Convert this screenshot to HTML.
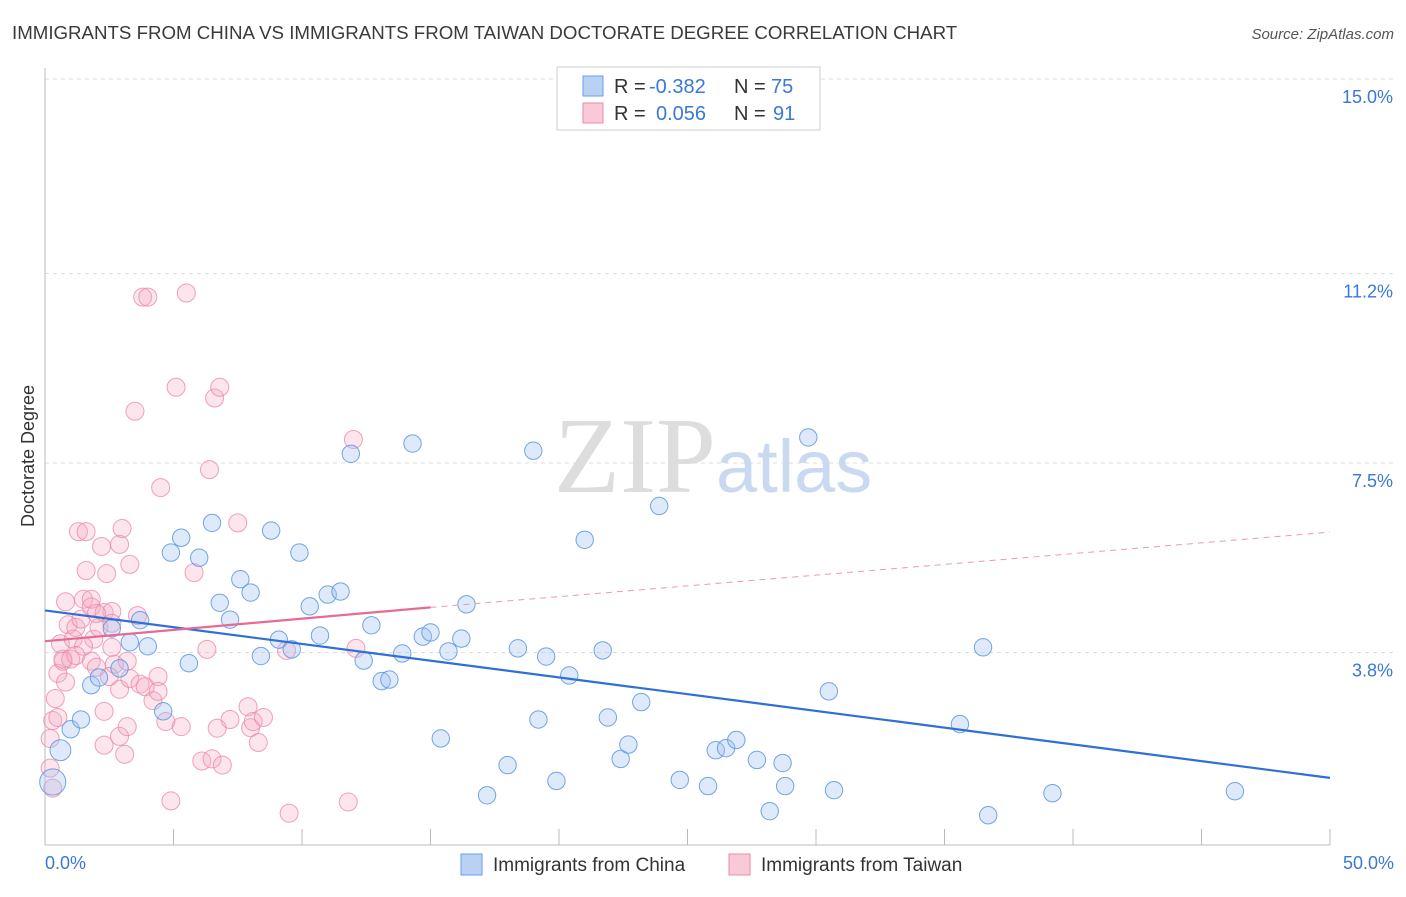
<!DOCTYPE html>
<html><head><meta charset="utf-8"><style>
body{margin:0;background:#fff;font-family:"Liberation Sans",sans-serif;}
</style></head><body>
<svg width="1406" height="892" xmlns="http://www.w3.org/2000/svg" font-family="Liberation Sans, sans-serif">
<text x="12" y="39" font-size="18.7" fill="#3a3a3a">IMMIGRANTS FROM CHINA VS IMMIGRANTS FROM TAIWAN DOCTORATE DEGREE CORRELATION CHART</text>
<text x="1394" y="39" font-size="15" fill="#555" text-anchor="end" font-style="italic">Source: ZipAtlas.com</text>
<g id="grid"></g>
<line x1="45" y1="68" x2="45" y2="845" stroke="#bbb"/>
<line x1="45" y1="845" x2="1330" y2="845" stroke="#bbb"/>
<text x="716" y="492" font-size="108" fill="#ddd" font-family="Liberation Serif, serif" text-anchor="end">ZIP</text>
<text x="716" y="492" font-size="74" fill="#c9d9f0">atlas</text>
<text x="34" y="456" font-size="18" fill="#333" transform="rotate(-90 34 456)" text-anchor="middle">Doctorate Degree</text>
<text x="45" y="869" font-size="18" fill="#3a78d8">0.0%</text>
<text x="1394" y="869" font-size="18" fill="#3a78d8" text-anchor="end">50.0%</text>
<g id="pts"></g>
<g id="lines"></g>
<g font-size="20">
<rect x="557" y="67" width="263" height="63" fill="#fff" stroke="#ccc"/>
<rect x="583" y="76" width="20" height="20" fill="#b9d2f4" stroke="#6a9ee6"/>
<rect x="583" y="103" width="20" height="20" fill="#f9c9d7" stroke="#ec8aa8"/>
<text x="614" y="93" fill="#333">R =</text><text x="649" y="93" fill="#3a78d8">-0.382</text>
<text x="734" y="93" fill="#333">N =</text><text x="771" y="93" fill="#3a78d8">75</text>
<text x="614" y="120" fill="#333">R =</text><text x="656" y="120" fill="#3a78d8">0.056</text>
<text x="734" y="120" fill="#333">N =</text><text x="773" y="120" fill="#3a78d8">91</text>
</g>
<g>
<rect x="461" y="854" width="21" height="21" fill="#b9d2f4" stroke="#6a9ee6"/>
<text x="493" y="871" font-size="19" fill="#333">Immigrants from China</text>
<rect x="729" y="854" width="21" height="21" fill="#f9c9d7" stroke="#ec8aa8"/>
<text x="761" y="871" font-size="19" fill="#333">Immigrants from Taiwan</text>
</g>
</svg>
<script>
const yTicks=[3.8,7.5,11.2,15.0];
const yTickLabels=["3.8%","7.5%","11.2%","15.0%"];
const chinaX=[0.3,0.6,1.0,1.4,1.8,2.1,2.6,2.9,3.3,3.7,4.0,4.6,4.9,5.3,5.6,6.0,6.5,6.8,7.2,7.6,8.0,8.4,8.8,9.1,9.6,9.9,10.3,10.7,11.0,11.5,11.9,12.4,12.7,13.1,13.4,13.9,14.3,14.7,15.0,15.4,15.7,16.2,16.4,17.2,18.0,18.4,19.0,19.2,19.5,19.9,20.4,21.0,21.7,21.9,22.4,22.7,23.2,23.9,24.7,25.8,26.1,26.5,26.9,27.7,28.2,28.7,28.8,29.7,30.5,30.7,35.6,36.5,36.7,39.2,46.3];
const chinaY=[1.27,1.89,2.3,2.49,3.16,3.31,4.27,3.49,4.0,4.43,3.92,2.65,5.75,6.04,3.59,5.65,6.33,4.77,4.44,5.23,4.97,3.73,6.18,4.05,3.86,5.75,4.7,4.13,4.93,4.99,7.68,3.64,4.33,3.24,3.27,3.78,7.88,4.11,4.19,2.12,3.82,4.07,4.74,1.01,1.6,3.88,7.74,2.49,3.72,1.29,3.35,6.0,3.84,2.53,1.72,2.0,2.83,6.66,1.31,1.19,1.89,1.93,2.09,1.70,0.70,1.64,1.19,8.0,3.04,1.11,2.40,3.90,0.62,1.05,1.09];
const chinaR=[15,12,10,10,10,10,10,10,10,10,10,10,10,10,10,10,10,10,10,10,10,10,10,10,10,10,10,10,10,10,10,10,10,10,10,10,10,10,10,10,10,10,10,10,10,10,10,10,10,10,10,10,10,10,10,10,10,10,10,10,10,10,10,10,10,10,10,10,10,10,10,10,10,10,10];
const taiwanX=[0.2,0.2,0.3,0.4,0.5,0.6,0.7,0.7,0.8,0.9,1.0,1.1,1.2,1.3,1.4,1.5,1.6,1.6,1.8,1.8,1.9,2.0,2.1,2.2,2.3,2.3,2.4,2.6,2.7,2.9,2.9,3.0,3.1,3.2,3.3,3.3,3.5,3.6,3.7,3.8,3.9,4.0,4.2,4.4,4.4,4.5,4.7,4.9,5.1,5.3,5.5,5.8,6.1,6.3,6.4,6.5,6.6,6.8,6.7,6.9,7.2,7.5,7.9,8.0,8.1,8.3,8.5,9.4,9.5,11.8,12.0,12.1,1.5,1.8,0.8,1.2,2.0,2.5,2.6,0.5,0.3,2.9,3.2,2.6,2.3];
const taiwanY=[1.54,2.12,2.47,2.90,3.39,3.97,3.63,3.67,4.79,4.34,3.67,4.06,4.29,6.16,4.45,4.84,5.40,6.16,4.69,3.63,4.06,3.51,4.29,5.87,4.58,1.99,5.34,4.60,3.57,3.08,5.91,6.22,1.81,3.63,5.52,3.29,8.51,4.52,3.18,10.74,3.13,10.74,2.86,3.33,3.04,7.02,2.45,0.90,8.98,2.35,10.82,5.36,1.68,3.86,7.37,1.72,8.77,8.98,2.32,1.60,2.49,6.33,2.74,2.33,2.45,2.04,2.53,3.84,0.66,0.88,7.96,3.88,3.92,4.84,3.22,3.74,4.56,3.33,4.37,2.53,1.15,2.16,2.35,3.90,2.65];
const blueFit=[4.62,1.35];
const pinkFit=[4.02,4.68,6.15];
const NS="http://www.w3.org/2000/svg";
function sx(v){return 45+v*25.7;}
function sy(v){return 847-v*51.2;}
const grid=document.getElementById('grid');
yTicks.forEach((t,i)=>{
 const l=document.createElementNS(NS,'line');
 l.setAttribute('x1',45);l.setAttribute('x2',1394);l.setAttribute('y1',sy(t));l.setAttribute('y2',sy(t));
 l.setAttribute('stroke','#ddd');l.setAttribute('stroke-dasharray','4,4');
 
 
 grid.appendChild(l);
 const tx=document.createElementNS(NS,'text');
 tx.setAttribute('x',1393);tx.setAttribute('y',sy(t)+24);tx.setAttribute('text-anchor','end');
 tx.setAttribute('font-size','18');tx.setAttribute('fill','#3a78d8');tx.textContent=yTickLabels[i];
 
 
 grid.appendChild(tx);
});
for(let i=1;i<=10;i++){
 const x=45+i*128.5;
 const l=document.createElementNS(NS,'line');
 l.setAttribute('x1',x);l.setAttribute('x2',x);l.setAttribute('y1',829);l.setAttribute('y2',845);l.setAttribute('stroke','#bbb');
 
 
 grid.appendChild(l);
}
const pts=document.getElementById('pts');
taiwanX.forEach((x,i)=>{
 const c=document.createElementNS(NS,'circle');
 c.setAttribute('cx',sx(x));c.setAttribute('cy',sy(taiwanY[i]));c.setAttribute('r',9);
 c.setAttribute('fill','rgba(246,170,195,0.3)');c.setAttribute('stroke','rgba(236,138,168,0.8)');c.setAttribute('stroke-width','1');
 
 
 pts.appendChild(c);
});
chinaX.forEach((x,i)=>{
 const c=document.createElementNS(NS,'circle');
 c.setAttribute('cx',sx(x));c.setAttribute('cy',sy(chinaY[i]));c.setAttribute('r',chinaR[i]/1.15);
 c.setAttribute('fill','rgba(160,195,240,0.35)');c.setAttribute('stroke','rgba(91,149,224,0.85)');c.setAttribute('stroke-width','1');
 
 
 pts.appendChild(c);
});
const lines=document.getElementById('lines');
function ln(x1,y1,x2,y2,col,w,dash,name){
 const l=document.createElementNS(NS,'line');
 l.setAttribute('x1',sx(x1));l.setAttribute('y1',sy(y1));l.setAttribute('x2',sx(x2));l.setAttribute('y2',sy(y2));
 l.setAttribute('stroke',col);l.setAttribute('stroke-width',w);if(dash)l.setAttribute('stroke-dasharray',dash);
 
 
 lines.appendChild(l);
}
ln(0,blueFit[0],50,blueFit[1],'#2f6fd6',2.2,null,'china-trendline');
ln(0,pinkFit[0],15,pinkFit[1],'#e86a93',2.2,null,'taiwan-trendline');
ln(15,pinkFit[1],50,pinkFit[2],'#e89ab2',1,'6,5','taiwan-trendline-extension');
</script>
</body></html>
